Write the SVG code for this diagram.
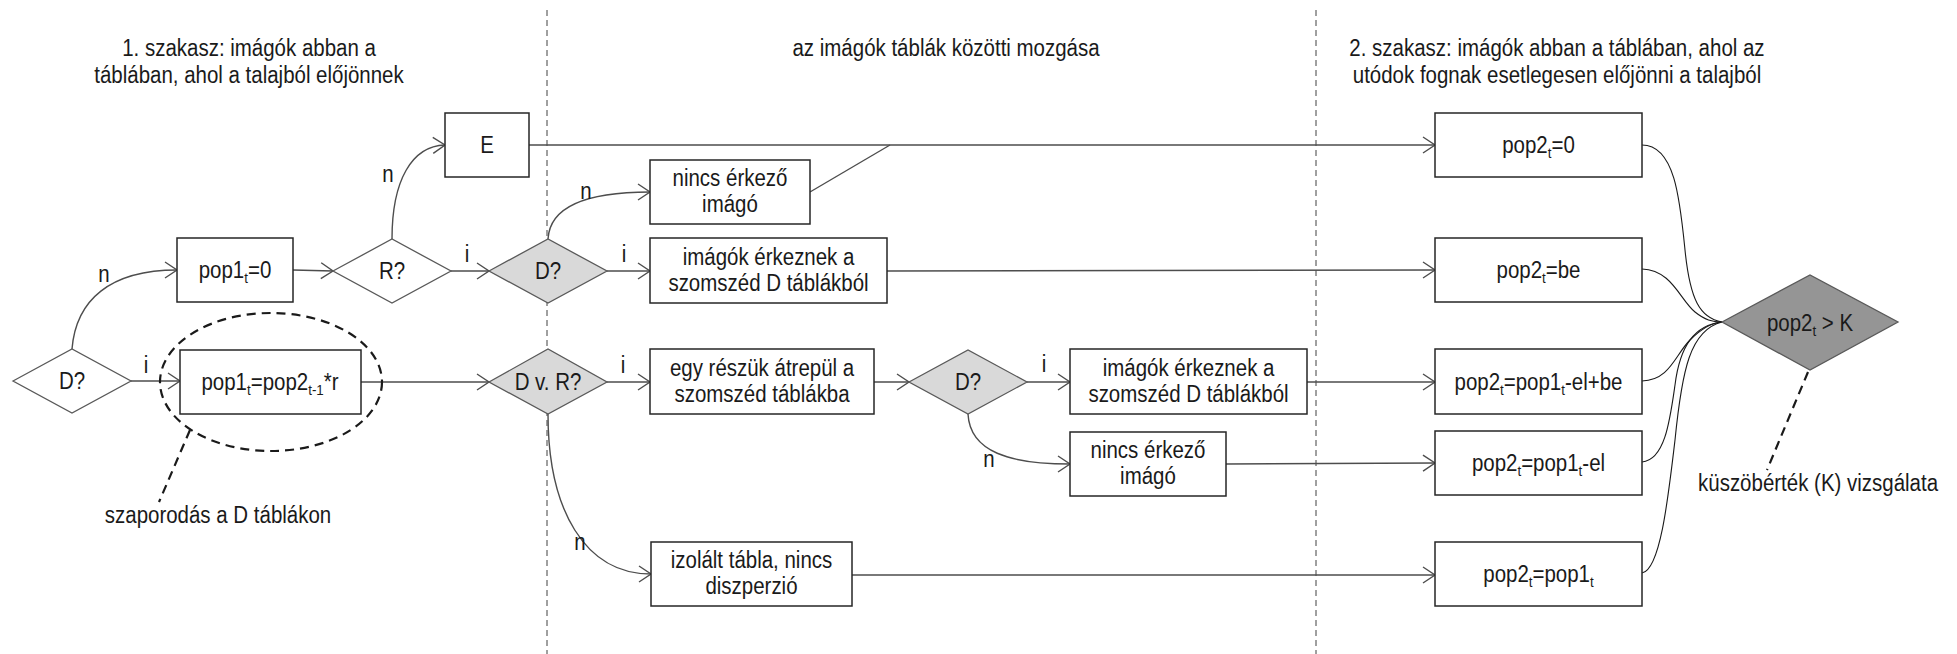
<svg xmlns="http://www.w3.org/2000/svg" width="1957" height="654" viewBox="0 0 1957 654">
<defs>
<style>
text{font-family:"Liberation Sans",Arial,sans-serif;font-size:23px;fill:#1a1a1a;text-anchor:middle;transform-box:fill-box;transform-origin:center;transform:scaleX(0.89)}
.box{fill:#fff;stroke:#262626;stroke-width:1.5}
.dia{fill:#fff;stroke:#595959;stroke-width:1.3}
.dia.g{fill:#d9d9d9}
.dia.dk{fill:#959595}
.c{fill:none;stroke:#4d4d4d;stroke-width:1.4}
.a{marker-end:url(#arr)}
.k{fill:none;stroke:#1a1a1a;stroke-width:1.1}
.sep{stroke:#404040;stroke-width:1;stroke-dasharray:6 4}
.lead{fill:none;stroke:#1a1a1a;stroke-width:2.2;stroke-dasharray:9 6}
.s{font-size:15px}
</style>
<marker id="arr" markerUnits="userSpaceOnUse" markerWidth="16" markerHeight="20" refX="13" refY="9" orient="auto">
<path d="M1,1 L13,9 L1,17" fill="none" stroke="#4d4d4d" stroke-width="1.4"/>
</marker>
</defs>
<rect width="1957" height="654" fill="#fff"/>

<g id="separators">
<line class="sep" x1="547" y1="10" x2="547" y2="654"/>
<line class="sep" x1="1316" y1="10" x2="1316" y2="654"/>
</g>

<g id="titles">
<text x="249" y="56">1. szakasz: imágók abban a</text>
<text x="249" y="83">táblában, ahol a talajból előjönnek</text>
<text x="946" y="56">az imágók táblák közötti mozgása</text>
<text x="1557" y="56">2. szakasz: imágók abban a táblában, ahol az</text>
<text x="1557" y="83">utódok fognak esetlegesen előjönni a talajból</text>
</g>

<g id="connectors">
<path class="c a" d="M72,349 C76,300 110,270 177,270"/>
<line class="c a" x1="293" y1="270" x2="333" y2="271"/>
<path class="c a" d="M392,239 C392,180 412,146 445,145"/>
<line class="c a" x1="451" y1="271" x2="489" y2="271"/>
<path class="c a" d="M548,239 C550,205 590,192 650,192"/>
<line class="c a" x1="607" y1="271" x2="650" y2="271"/>
<line class="c a" x1="529" y1="145" x2="1435" y2="145"/>
<line class="c" x1="810" y1="192" x2="890" y2="145"/>
<line class="c a" x1="887" y1="271" x2="1435" y2="270"/>
<line class="c a" x1="131" y1="381" x2="180" y2="381"/>
<line class="c a" x1="361" y1="382" x2="489" y2="382"/>
<line class="c a" x1="607" y1="382" x2="650" y2="382"/>
<path class="c a" d="M548,414 C548,510 585,574 651,574"/>
<line class="c a" x1="874" y1="382" x2="909" y2="382"/>
<line class="c a" x1="1027" y1="382" x2="1070" y2="382"/>
<path class="c a" d="M968,414 C970,452 1010,464 1070,464"/>
<line class="c a" x1="1307" y1="382" x2="1435" y2="382"/>
<line class="c a" x1="1226" y1="464" x2="1435" y2="463"/>
<line class="c a" x1="852" y1="575" x2="1435" y2="575"/>
<path class="k" d="M1642,145 C1675,145 1680,200 1685,250 C1690,300 1700,318 1722,322"/>
<path class="k" d="M1642,269 C1672,270 1680,300 1695,312 C1705,320 1712,322 1722,322"/>
<path class="k" d="M1642,381 C1670,380 1675,355 1690,340 C1700,330 1710,323 1722,322"/>
<path class="k" d="M1642,462 C1665,460 1670,420 1675,385 C1680,345 1695,325 1722,322"/>
<path class="k" d="M1642,573 C1660,570 1668,500 1675,440 C1682,370 1690,330 1722,322"/>
</g>

<g id="labels">
<text x="104" y="282">n</text>
<text x="146" y="373">i</text>
<text x="388" y="182">n</text>
<text x="467" y="262">i</text>
<text x="586" y="199">n</text>
<text x="624" y="262">i</text>
<text x="623" y="373">i</text>
<text x="580" y="550">n</text>
<text x="1044" y="372">i</text>
<text x="989" y="467">n</text>
</g>

<g id="n-d1">
<polygon class="dia" points="13,381 72,349 131,381 72,413"/>
<text x="72" y="389">D?</text>
</g>
<g id="n-pop1-0">
<rect class="box" x="177" y="238" width="116" height="64"/>
<text x="235" y="278">pop1<tspan class="s" dy="5">t</tspan><tspan dy="-5">=0</tspan></text>
</g>
<g id="n-pop1-r">
<rect class="box" x="180" y="350" width="181" height="64"/>
<text x="270" y="390">pop1<tspan class="s" dy="5">t</tspan><tspan dy="-5">=pop2</tspan><tspan class="s" dy="5">t-1</tspan><tspan dy="-5">*r</tspan></text>
</g>
<g id="n-reprod">
<ellipse class="lead" cx="271" cy="382" rx="111" ry="69"/>
<line class="lead" x1="190" y1="430" x2="159" y2="502"/>
<text x="218" y="523">szaporodás a D táblákon</text>
</g>
<g id="n-r">
<polygon class="dia" points="333,271 392,239 451,271 392,303"/>
<text x="392" y="279">R?</text>
</g>
<g id="n-e">
<rect class="box" x="445" y="113" width="84" height="64"/>
<text x="487" y="153">E</text>
</g>
<g id="n-d2">
<polygon class="dia g" points="489,271 548,239 607,271 548,303"/>
<text x="548" y="279">D?</text>
</g>
<g id="n-dvr">
<polygon class="dia g" points="489,382 548,349 607,382 548,414"/>
<text x="548" y="390">D v. R?</text>
</g>
<g id="n-nincs1">
<rect class="box" x="650" y="160" width="160" height="64"/>
<text x="730" y="186">nincs érkező</text>
<text x="730" y="212.5">imágó</text>
</g>
<g id="n-erkez1">
<rect class="box" x="650" y="238" width="237" height="65"/>
<text x="768.5" y="265">imágók érkeznek a</text>
<text x="768.5" y="291.5">szomszéd D táblákból</text>
</g>
<g id="n-egy">
<rect class="box" x="650" y="349" width="224" height="65"/>
<text x="762" y="376">egy részük átrepül a</text>
<text x="762" y="402.5">szomszéd táblákba</text>
</g>
<g id="n-d3">
<polygon class="dia g" points="909,382 968,350 1027,382 968,414"/>
<text x="968" y="390">D?</text>
</g>
<g id="n-erkez2">
<rect class="box" x="1070" y="349" width="237" height="65"/>
<text x="1188.5" y="376">imágók érkeznek a</text>
<text x="1188.5" y="402.5">szomszéd D táblákból</text>
</g>
<g id="n-nincs2">
<rect class="box" x="1070" y="432" width="156" height="64"/>
<text x="1148" y="458">nincs érkező</text>
<text x="1148" y="484.5">imágó</text>
</g>
<g id="n-izolalt">
<rect class="box" x="651" y="542" width="201" height="64"/>
<text x="751.5" y="568">izolált tábla, nincs</text>
<text x="751.5" y="594.5">diszperzió</text>
</g>
<g id="n-pop2-0">
<rect class="box" x="1435" y="113" width="207" height="64"/>
<text x="1538.5" y="153">pop2<tspan class="s" dy="5">t</tspan><tspan dy="-5">=0</tspan></text>
</g>
<g id="n-pop2-be">
<rect class="box" x="1435" y="238" width="207" height="64"/>
<text x="1538.5" y="278">pop2<tspan class="s" dy="5">t</tspan><tspan dy="-5">=be</tspan></text>
</g>
<g id="n-pop2-elbe">
<rect class="box" x="1435" y="349" width="207" height="65"/>
<text x="1538.5" y="390">pop2<tspan class="s" dy="5">t</tspan><tspan dy="-5">=pop1</tspan><tspan class="s" dy="5">t</tspan><tspan dy="-5">-el+be</tspan></text>
</g>
<g id="n-pop2-el">
<rect class="box" x="1435" y="431" width="207" height="64"/>
<text x="1538.5" y="471">pop2<tspan class="s" dy="5">t</tspan><tspan dy="-5">=pop1</tspan><tspan class="s" dy="5">t</tspan><tspan dy="-5">-el</tspan></text>
</g>
<g id="n-pop2-pop1">
<rect class="box" x="1435" y="542" width="207" height="64"/>
<text x="1538.5" y="582">pop2<tspan class="s" dy="5">t</tspan><tspan dy="-5">=pop1</tspan><tspan class="s" dy="5">t</tspan></text>
</g>
<g id="n-k">
<polygon class="dia dk" points="1722,322 1810,275 1898,322 1810,370"/>
<text x="1810" y="331">pop2<tspan class="s" dy="5">t</tspan><tspan dy="-5"> &gt; K</tspan></text>
<line class="lead" x1="1808" y1="372" x2="1767" y2="470"/>
<text x="1818" y="491">küszöbérték (K) vizsgálata</text>
</g>
</svg>
